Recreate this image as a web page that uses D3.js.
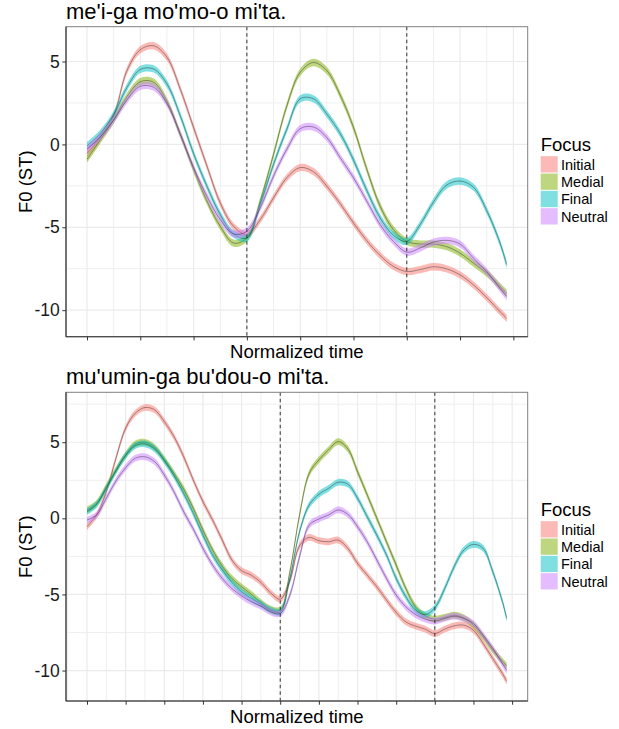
<!DOCTYPE html>
<html>
<head>
<meta charset="utf-8">
<script src="https://cdn.jsdelivr.net/npm/d3@7"></script>
<style>
  body { margin: 0; background: #fff; }
  svg { display: block; font-family: "Liberation Sans", Arial, sans-serif; }
</style>
</head>
<body>
<div id="chart"></div>
<script>
// Focus conditions (legend order) and ggplot hue colours
const focusLevels = ['Initial', 'Medial', 'Final', 'Neutral'];
const focusColors = ['#F8766D', '#7CAE00', '#00BFC4', '#C77CFF'];
const yBreaks = [-10, -5, 0, 5];
const ribbonHalfWidth = 0.22; // approx. standard error of the smooth

// ---- Panel 1: me'i-ga mo'mo-o mi'ta. ----
const topTitle = "me'i-ga mo'mo-o mi'ta.";
const topBoundaries = [3, 6];
const topYLimits = [-11.6, 7.1];
const topTime = [0, 0.25, 0.5, 0.75, 1, 1.25, 1.5, 1.75, 2, 2.25, 2.5, 2.75, 3, 3.25, 3.5, 3.75,
  4, 4.25, 4.5, 4.75, 5, 5.25, 5.5, 5.75, 6, 6.25, 6.5, 6.75, 7, 7.25, 7.5, 7.75, 7.875];
const topInitial = [-0.56, 0.45, 1.73, 4.45, 5.71, 5.95, 5.26, 3.34, 1.02, -1.30, -3.53, -4.94, -5.44,
  -4.54, -3.22, -2.01, -1.40, -1.65, -2.52, -3.57, -4.74, -5.81, -6.70, -7.36, -7.67, -7.55, -7.38,
  -7.51, -7.87, -8.47, -9.24, -10.09, -10.49];
const topMedial = [-0.90, 0.27, 1.48, 2.88, 3.78, 3.75, 2.60, 0.62, -1.50, -3.42, -4.94, -5.95, -5.65,
  -3.42, -0.60, 2.33, 4.35, 4.94, 4.45, 2.98, 1.02, -1.50, -3.73, -5.14, -5.85, -6.01, -6.01, -6.17,
  -6.56, -7.16, -7.77, -8.58, -8.98];
const topFinal = [-0.09, 0.66, 1.79, 3.44, 4.52, 4.55, 3.65, 1.73, -0.56, -2.52, -4.23, -5.40, -5.65,
  -3.63, -1.20, 0.92, 2.75, 2.75, 1.83, 0.66, -0.94, -2.78, -4.43, -5.48, -5.85, -4.84, -3.48, -2.45,
  -2.21, -2.58, -3.99, -5.95, -7.26];
const topNeutral = [-0.29, 0.45, 1.46, 2.68, 3.50, 3.45, 2.47, 0.62, -1.40, -3.12, -4.54, -5.40, -5.24,
  -3.83, -1.91, -0.29, 0.95, 1.05, 0.41, -0.80, -2.01, -3.42, -4.84, -5.85, -6.50, -6.25, -5.89, -5.79,
  -6.01, -6.86, -7.67, -8.68, -9.18];

// ---- Panel 2: mu'umin-ga bu'dou-o mi'ta. ----
const bottomTitle = "mu'umin-ga bu'dou-o mi'ta.";
const bottomBoundaries = [5, 9];
const bottomYLimits = [-12.0, 8.28];
const bottomTime = [0, 0.25, 0.5, 0.75, 1, 1.25, 1.5, 1.75, 2, 2.25, 2.5, 2.75, 3, 3.25, 3.5, 3.75,
  4, 4.25, 4.5, 4.75, 5, 5.25, 5.5, 5.75, 6, 6.25, 6.5, 6.75, 7, 7.25, 7.5, 7.75, 8, 8.25, 8.5, 8.75,
  9, 9.25, 9.5, 9.75, 10, 10.25, 10.5, 10.75, 10.86];
const bottomInitial = [-0.55, 0.22, 1.75, 3.95, 5.92, 6.91, 7.28, 7.13, 6.36, 5.37, 4.06, 2.52, 1.10,
  -0.11, -1.43, -2.74, -3.44, -3.73, -4.21, -4.89, -5.31, -4.10, -1.80, -1.25, -1.47, -1.54, -1.43,
  -1.97, -2.96, -3.73, -4.50, -5.37, -6.18, -6.80, -7.08, -7.28, -7.57, -7.28, -7.06, -7.02, -7.35,
  -8.22, -9.21, -10.20, -10.70];
const bottomMedial = [0.55, 0.99, 2.08, 3.18, 4.17, 4.89, 5.00, 4.67, 3.88, 2.96, 1.93, 0.66, -0.77,
  -2.08, -3.14, -3.95, -4.50, -4.98, -5.53, -5.96, -6.03, -3.51, 0.22, 2.96, 3.84, 4.50, 5.04, 4.56,
  3.07, 1.54, 0.00, -1.54, -3.07, -4.61, -5.81, -6.40, -6.62, -6.51, -6.36, -6.54, -7.02, -7.79,
  -8.66, -9.39, -9.69];
const bottomFinal = [0.44, 0.92, 1.97, 3.11, 4.12, 4.78, 4.89, 4.56, 3.79, 2.81, 1.64, 0.33, -1.10,
  -2.41, -3.40, -4.21, -4.82, -5.26, -5.64, -6.03, -6.14, -3.95, -0.88, 0.88, 1.58, 1.97, 2.37, 2.24,
  1.32, 0.11, -1.10, -2.41, -3.95, -5.15, -6.03, -6.32, -5.88, -4.65, -3.18, -2.08, -1.71, -1.97,
  -3.51, -5.48, -6.58];
const bottomNeutral = [-0.11, 0.22, 1.32, 2.46, 3.33, 3.95, 4.04, 3.73, 2.85, 1.75, 0.44, -0.70, -1.97,
  -3.07, -3.95, -4.61, -5.09, -5.48, -5.77, -6.14, -6.25, -5.04, -2.52, -0.44, -0.04, 0.22, 0.55, 0.26,
  -0.55, -1.54, -2.74, -3.95, -5.04, -5.81, -6.32, -6.62, -6.75, -6.58, -6.43, -6.58, -6.91, -7.68,
  -8.55, -9.54, -9.98];

const width = 619;
const height = 729;

const svg = d3
  .select('#chart')
  .append('svg')
  .attr('width', width)
  .attr('height', height);

svg.append('rect').attr('width', width).attr('height', height).attr('fill', '#fff');

function drawPanel({ title, time, series, boundaries, yLimits, top, bottom, titleY, xTitleY }) {
  const left = 66;
  const right = 527.7;

  // x scale with ggplot's 5% expansion
  const tExtent = d3.extent(time);
  const pad = (tExtent[1] - tExtent[0]) * 0.05;
  const x = d3
    .scaleLinear()
    .domain([tExtent[0] - pad, tExtent[1] + pad])
    .range([left, right]);

  const y = d3.scaleLinear().domain(yLimits).range([bottom, top]);

  const g = svg.append('g');

  // Grid lines
  const xMajor = d3.range(Math.ceil(x.domain()[0]), x.domain()[1], 1);
  const xMinor = d3.range(Math.ceil(x.domain()[0] - 0.5) + 0.5, x.domain()[1], 1);
  const yMinor = d3.range(-12.5, yLimits[1], 5).filter((v) => v > yLimits[0]);

  const grid = g.append('g');
  grid
    .selectAll('.minor-x')
    .data(xMinor)
    .join('line')
    .attr('x1', (d) => x(d))
    .attr('x2', (d) => x(d))
    .attr('y1', top)
    .attr('y2', bottom)
    .attr('stroke', '#EFEFEF')
    .attr('stroke-width', 1);
  grid
    .selectAll('.minor-y')
    .data(yMinor)
    .join('line')
    .attr('x1', left)
    .attr('x2', right)
    .attr('y1', (d) => y(d))
    .attr('y2', (d) => y(d))
    .attr('stroke', '#EFEFEF')
    .attr('stroke-width', 1);
  grid
    .selectAll('.major-x')
    .data(xMajor)
    .join('line')
    .attr('x1', (d) => x(d))
    .attr('x2', (d) => x(d))
    .attr('y1', top)
    .attr('y2', bottom)
    .attr('stroke', '#EBEBEB')
    .attr('stroke-width', 1.2);
  grid
    .selectAll('.major-y')
    .data(yBreaks)
    .join('line')
    .attr('x1', left)
    .attr('x2', right)
    .attr('y1', (d) => y(d))
    .attr('y2', (d) => y(d))
    .attr('stroke', '#EBEBEB')
    .attr('stroke-width', 1.2);

  // Smooths: ribbon then line, one group at a time (ggplot order)
  const area = d3
    .area()
    .x((d) => x(d.t))
    .y0((d) => y(d.v - ribbonHalfWidth))
    .y1((d) => y(d.v + ribbonHalfWidth))
    .curve(d3.curveCatmullRom);
  const line = d3
    .line()
    .x((d) => x(d.t))
    .y((d) => y(d.v))
    .curve(d3.curveCatmullRom);

  series.forEach((values, i) => {
    const pts = values.map((v, j) => ({ t: time[j], v }));
    g.append('path')
      .attr('d', area(pts))
      .attr('fill', focusColors[i])
      .attr('fill-opacity', 0.5);
    g.append('path')
      .attr('d', line(pts))
      .attr('fill', 'none')
      .attr('stroke', '#000')
      .attr('stroke-opacity', 0.5)
      .attr('stroke-width', 0.7);
  });

  // Word boundaries
  g.selectAll('.boundary')
    .data(boundaries)
    .join('line')
    .attr('x1', (d) => x(d))
    .attr('x2', (d) => x(d))
    .attr('y1', top)
    .attr('y2', bottom)
    .attr('stroke', '#333')
    .attr('stroke-width', 1)
    .attr('stroke-dasharray', '3.5,3');

  // Panel border
  g.append('rect')
    .attr('x', left)
    .attr('y', top)
    .attr('width', right - left)
    .attr('height', bottom - top)
    .attr('fill', 'none')
    .attr('stroke', '#808080')
    .attr('stroke-width', 1);

  // Axes (hyphen-minus labels like the original)
  const yAxis = g
    .append('g')
    .attr('transform', `translate(${left},0)`)
    .call(
      d3
        .axisLeft(y)
        .tickValues(yBreaks)
        .tickFormat((d) => String(d))
        .tickSize(3.7)
        .tickPadding(2.6)
    )
    .call((a) => a.select('.domain').remove());
  yAxis.selectAll('.tick line').attr('stroke', '#333');
  yAxis
    .selectAll('.tick text')
    .attr('fill', '#1a1a1a')
    .style('font-size', '17.5px')
    .style('font-family', '"Liberation Sans", Arial, sans-serif');

  const xAxis = g
    .append('g')
    .attr('transform', `translate(0,${bottom})`)
    .call(d3.axisBottom(x).tickValues(xMajor).tickFormat('').tickSize(3.7))
    .call((a) => a.select('.domain').remove());
  xAxis.selectAll('.tick line').attr('stroke', '#333');

  g.append('line')
    .attr('x1', left)
    .attr('x2', left)
    .attr('y1', top)
    .attr('y2', bottom)
    .attr('stroke', '#333')
    .attr('stroke-width', 1.1);
  g.append('line')
    .attr('x1', left)
    .attr('x2', right)
    .attr('y1', bottom)
    .attr('y2', bottom)
    .attr('stroke', '#333')
    .attr('stroke-width', 1.1);

  // Titles
  g.append('text')
    .attr('x', left)
    .attr('y', titleY)
    .attr('fill', '#000')
    .style('font-size', '22px')
    .text(title);

  g.append('text')
    .attr('x', (left + right) / 2)
    .attr('y', xTitleY)
    .attr('text-anchor', 'middle')
    .attr('fill', '#000')
    .style('font-size', '18.5px')
    .text('Normalized time');

  const midY = (top + bottom) / 2;
  g.append('text')
    .attr('transform', `translate(31.5,${midY}) rotate(-90)`)
    .attr('text-anchor', 'middle')
    .attr('fill', '#000')
    .style('font-size', '18.5px')
    .text('F0 (ST)');

  // Legend
  const legend = g.append('g').attr('transform', `translate(540.7,${midY})`);
  legend
    .append('text')
    .attr('x', 0)
    .attr('y', -30.3)
    .attr('fill', '#000')
    .style('font-size', '18.5px')
    .text('Focus');
  const keys = legend
    .selectAll('.key')
    .data(focusLevels)
    .join('g')
    .attr('transform', (d, i) => `translate(0,${-25.5 + i * 17.33})`);
  keys
    .append('rect')
    .attr('width', 17)
    .attr('height', 16.3)
    .attr('fill', (d, i) => focusColors[i])
    .attr('fill-opacity', 0.5);
  keys
    .append('text')
    .attr('x', 20.3)
    .attr('y', 8.4)
    .attr('dominant-baseline', 'central')
    .attr('fill', '#000')
    .style('font-size', '14.5px')
    .text((d) => d);
}

drawPanel({
  title: topTitle,
  time: topTime,
  series: [topInitial, topMedial, topFinal, topNeutral],
  boundaries: topBoundaries,
  yLimits: topYLimits,
  top: 26.7,
  bottom: 336.7,
  titleY: 19,
  xTitleY: 357.7
});

drawPanel({
  title: bottomTitle,
  time: bottomTime,
  series: [bottomInitial, bottomMedial, bottomFinal, bottomNeutral],
  boundaries: bottomBoundaries,
  yLimits: bottomYLimits,
  top: 392.3,
  bottom: 701,
  titleY: 384,
  xTitleY: 722.7
});
</script>
</body>
</html>
